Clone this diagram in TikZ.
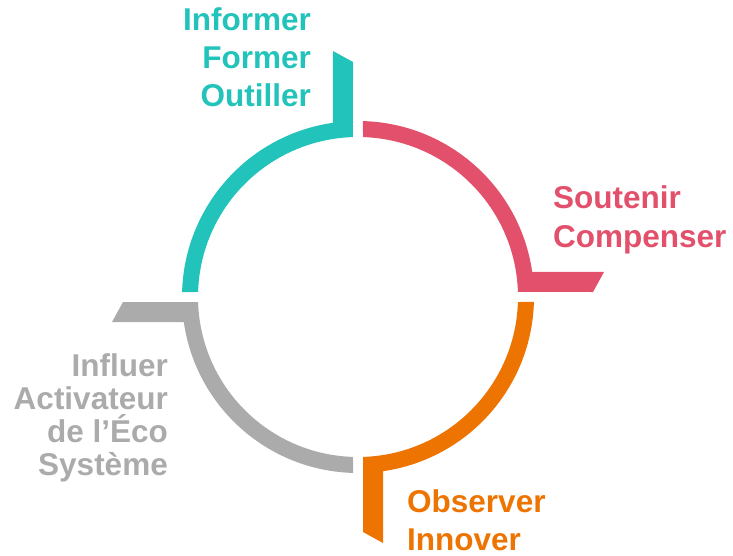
\documentclass[tikz,border=0pt]{standalone}
\usepackage{fontspec}
\setmainfont{Liberation Sans}
\usepackage{tikz}
\definecolor{tealarc}{RGB}{34,195,186}
\definecolor{redarc}{RGB}{226,80,107}
\definecolor{orangearc}{RGB}{238,116,2}
\definecolor{grayarc}{RGB}{171,171,171}

\begin{document}
\begin{tikzpicture}[x=1pt,y=1pt,font=\bfseries\fontsize{31.5}{38}\selectfont]
    \useasboundingbox (0,0) rectangle (733,555);
    \fill[tealarc, shift={(358,258)}] (178.2:160) arc[start angle=178.2, end angle=91.8, radius=160] -- (-5,235) -- (-25,246) -- (98.2:176) arc[start angle=98.2, end angle=178.4, radius=176] -- cycle;
    \fill[redarc, shift={(358,258)}, rotate=-90] (178.2:160) arc[start angle=178.2, end angle=91.8, radius=160] -- (-5,235) -- (-25,246) -- (98.2:176) arc[start angle=98.2, end angle=178.4, radius=176] -- cycle;
    \fill[orangearc, shift={(358,258)}, rotate=-180] (178.2:160) arc[start angle=178.2, end angle=91.8, radius=160] -- (-5,235) -- (-25,246) -- (98.2:176) arc[start angle=98.2, end angle=178.4, radius=176] -- cycle;
    \fill[grayarc, shift={(358,258)}, rotate=-270] (178.2:160) arc[start angle=178.2, end angle=91.8, radius=160] -- (-5,235) -- (-25,246) -- (98.2:176) arc[start angle=98.2, end angle=178.4, radius=176] -- cycle;
    \node[anchor=base east, align=right, inner sep=0, text=tealarc] (A) at (311,448) {Informer\\Former\\Outiller};
    \node[anchor=base west, align=left, inner sep=0, text=redarc] (B) at (553,308) {Soutenir\\Compenser};
    \node[anchor=base west, align=left, inner sep=0, text=orangearc] (C) at (407,5) {Observer\\Innover};
    \node[anchor=base east, align=right, inner sep=0, text=grayarc, font=\bfseries\fontsize{31.5}{33}\selectfont] (D) at (168,80) {Influer\\Activateur\\de l’Éco\\Système};
\end{tikzpicture}
\end{document}
